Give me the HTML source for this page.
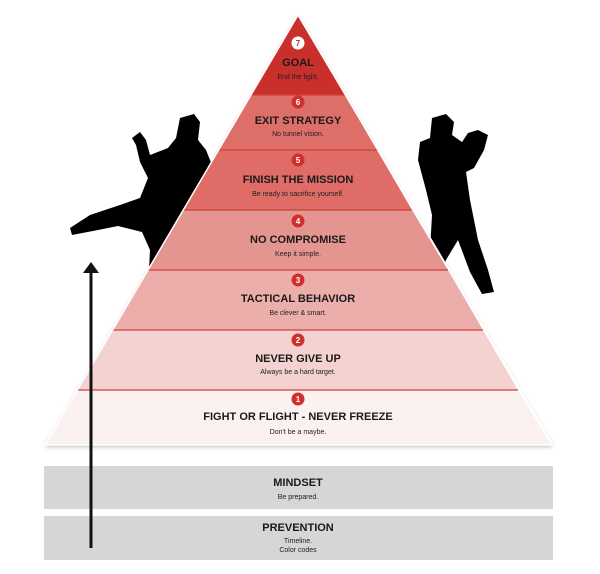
<!DOCTYPE html>
<html><head><meta charset="utf-8"><style>
body{margin:0;background:#fff;width:600px;height:569px;overflow:hidden;font-family:"Liberation Sans",sans-serif}
svg text{font-family:"Liberation Sans",sans-serif;text-anchor:middle}
.t{font-weight:bold;font-size:11px;fill:#1a1a1a}
.s{font-size:7px;fill:#222}
.n{font-weight:bold;font-size:8px;fill:#fff}
</style></head><body>
<svg width="600" height="569" viewBox="0 0 600 569">
<defs><filter id="sh" x="-10%" y="-10%" width="120%" height="120%"><feDropShadow dx="0" dy="2" stdDeviation="2" flood-color="#000" flood-opacity="0.25"/></filter></defs>
<!-- left kicker -->
<path d="M180,118 L194,114 L200,122 L198,140 L206,150 L214,170 L206,210 L196,240 L170,288 L148,290 L150,250 L142,232 L118,226 L98,230 L72,235 L70,228 L90,215 L120,205 L140,198 L148,178 L140,162 L136,145 L132,138 L140,132 L146,140 L150,155 L168,148 L176,138 Z" fill="#000"/>
<!-- right fighter -->
<path d="M432,118 L446,114 L454,122 L452,135 L462,142 L468,133 L478,130 L488,135 L484,150 L474,168 L466,172 L470,200 L478,240 L488,270 L494,292 L482,294 L470,272 L458,240 L446,260 L436,290 L420,290 L430,250 L432,215 L426,190 L418,160 L420,142 L430,138 Z" fill="#000"/>
<g filter="url(#sh)">
<polygon points="298,15 45,445 553,445" fill="#fff"/>
</g>
<polygon points="298,15 251,95 345,95" fill="#c9302c"/>
<polygon points="251,95 345,95 377,150 219,150" fill="#de6f68"/>
<polygon points="219,150 377,150 412,210 183,210" fill="#df6c66"/>
<polygon points="183,210 412,210 448,270 148,270" fill="#e5958f"/>
<polygon points="148,270 448,270 483,330 112,330" fill="#ebaeaa"/>
<polygon points="112,330 483,330 518,390 77,390" fill="#f3d2d0"/>
<polygon points="77,390 518,390 551,444 47,444" fill="#fbf1f0"/>
<g stroke="#d0403a" stroke-width="1.2">
<line x1="251" y1="95" x2="345" y2="95"/><line x1="219" y1="150" x2="377" y2="150"/>
<line x1="183" y1="210" x2="412" y2="210"/><line x1="148" y1="270" x2="448" y2="270"/>
<line x1="112" y1="330" x2="483" y2="330"/><line x1="77" y1="390" x2="518" y2="390"/>
</g>
<polygon points="298,15 45,445 553,445" fill="none" stroke="#fff" stroke-width="1.5"/>
<g>
<circle cx="298" cy="43" r="6.5" fill="#fff"/><text x="298" y="46" class="n" style="fill:#c9302c">7</text>
<text x="298" y="66" class="t">GOAL</text><text x="298" y="79" class="s">End the fight.</text>
<circle cx="298" cy="102" r="6.5" fill="#d0302c"/><text x="298" y="105" class="n">6</text>
<text x="298" y="124" class="t">EXIT STRATEGY</text><text x="298" y="136" class="s">No tunnel vision.</text>
<circle cx="298" cy="160" r="6.5" fill="#d0302c"/><text x="298" y="163" class="n">5</text>
<text x="298" y="183" class="t">FINISH THE MISSION</text><text x="298" y="196" class="s">Be ready to sacrifice yourself.</text>
<circle cx="298" cy="221" r="6.5" fill="#d0302c"/><text x="298" y="224" class="n">4</text>
<text x="298" y="243" class="t">NO COMPROMISE</text><text x="298" y="256" class="s">Keep it simple.</text>
<circle cx="298" cy="280" r="6.5" fill="#d0302c"/><text x="298" y="283" class="n">3</text>
<text x="298" y="302" class="t">TACTICAL BEHAVIOR</text><text x="298" y="315" class="s">Be clever &amp; smart.</text>
<circle cx="298" cy="340" r="6.5" fill="#d0302c"/><text x="298" y="343" class="n">2</text>
<text x="298" y="362" class="t">NEVER GIVE UP</text><text x="298" y="374" class="s">Always be a hard target.</text>
<circle cx="298" cy="399" r="6.5" fill="#d0302c"/><text x="298" y="402" class="n">1</text>
<text x="298" y="420" class="t">FIGHT OR FLIGHT - NEVER FREEZE</text><text x="298" y="434" class="s">Don't be a maybe.</text>
</g>
<rect x="44" y="466" width="509" height="43" fill="#d6d6d6"/>
<text x="298" y="486" class="t">MINDSET</text><text x="298" y="499" class="s">Be prepared.</text>
<rect x="44" y="516" width="509" height="44" fill="#d6d6d6"/>
<text x="298" y="531" class="t">PREVENTION</text><text x="298" y="543" class="s">Timeline.</text><text x="298" y="552" class="s">Color codes</text>
<line x1="91" y1="272" x2="91" y2="548" stroke="#111" stroke-width="3"/>
<polygon points="91,262 83,273 99,273" fill="#111"/>
</svg>
</body></html>
